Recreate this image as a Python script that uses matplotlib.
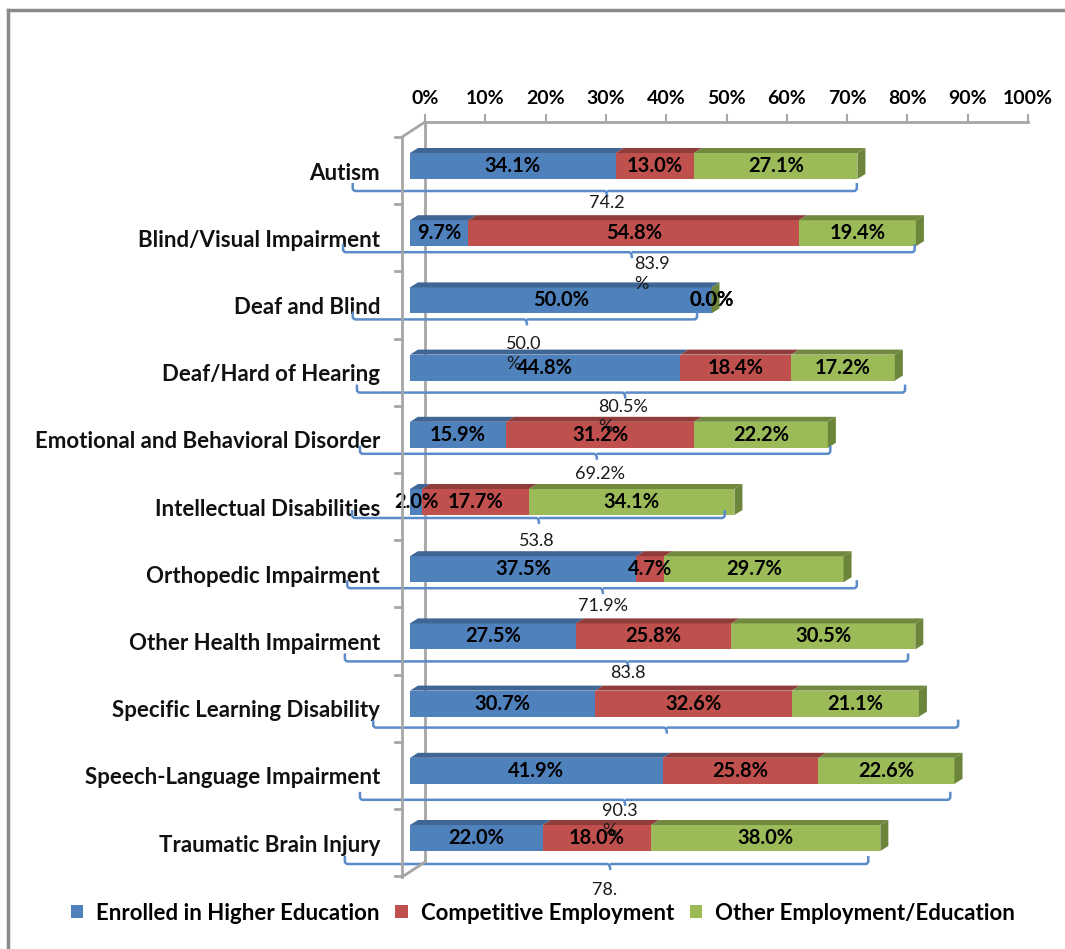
import matplotlib
matplotlib.use("Agg")
import matplotlib.pyplot as plt
from matplotlib.patches import Polygon, Patch, PathPatch
from matplotlib.lines import Line2D
from matplotlib.path import Path

# ---------------- data ----------------
categories = ["Autism", "Blind/Visual Impairment", "Deaf and Blind", "Deaf/Hard of Hearing",
              "Emotional and Behavioral Disorder", "Intellectual Disabilities",
              "Orthopedic Impairment", "Other Health Impairment",
              "Specific Learning Disability", "Speech-Language Impairment",
              "Traumatic Brain Injury"]
enrolled = [34.1, 9.7, 50.0, 44.8, 15.9, 2.0, 37.5, 27.5, 30.7, 41.9, 22.0]
competitive = [13.0, 54.8, 0.0, 18.4, 31.2, 17.7, 4.7, 25.8, 32.6, 25.8, 18.0]
other = [27.1, 19.4, 0.0, 17.2, 22.2, 34.1, 29.7, 30.5, 21.1, 22.6, 38.0]
series_names = ["Enrolled in Higher Education", "Competitive Employment",
                "Other Employment/Education"]
total_labels = ["74.2", "83.9\n%", "50.0\n%", "80.5%\n%", "69.2%", "53.8", "71.9%",
                "83.8", "", "90.3\n%", "78."]
tick_values = [0, 10, 20, 30, 40, 50, 60, 70, 80, 90, 100]
tick_labels = [f"{v}%" for v in tick_values]

# ---------------- layout / style ----------------
W, H = 1065, 949
FONT = ["Lato", "DejaVu Sans"]
front_colors = ["#4F81BD", "#C0504D", "#9BBB59"]
top_colors = ["#3E6594", "#8F3C3A", "#71893F"]
side_color = "#6B853A"
brace_color = "#5B8BC9"
grid_gray = "#A6A6A6"

PX_X = 6.03    # pixels per percent
PX_Y = 67.2    # pixels per category
BAR_H = 26 / PX_Y
DX = 8 / PX_X
DY = 5 / PX_Y

# bracket annotation layout (x in %, y offsets in px below the bar centre)
brace_left = [-9.5, -11.1, -9.5, -8.8, -8.3, -9.6, -10.4, -10.8, -6.1, -8.3, -10.8]
brace_right = [74.1, 83.7, 47.6, 82.1, 69.7, 52.2, 74.1, 82.6, 90.9, 89.6, 76.0]
brace_mid = [32.7, 36.8, 19.4, 35.7, 31.0, 21.4, 32.0, 36.2, 42.6, 35.7, 33.2]
brace_off = [25, 19, 19, 25, 19, 16, 19, 25, 24, 29, 26]
label_x = [32.7, 40.1, 18.9, 35.3, 31.5, 21.1, 32.0, 36.2, 42.6, 34.8, 32.2]
label_off = [37, 29, 42, 37, 39, 39, 37, 37, 46, 38, 52]

plt.rcParams["font.family"] = FONT

fig = plt.figure(figsize=(W / 100, H / 100), dpi=100)


def fx(px):
    return px / W


def fy(py):
    return 1 - py / H


# back plane axes (top percentage axis + back wall line)
ax2 = fig.add_axes([fx(425), fy(862), 603 / W, 740 / H])
ax2.set_xlim(0, 100)
ax2.set_ylim(0, 1)
ax2.patch.set_visible(False)
for s in ["right", "bottom"]:
    ax2.spines[s].set_visible(False)
for s in ["top", "left"]:
    ax2.spines[s].set_color(grid_gray)
    ax2.spines[s].set_linewidth(2)
ax2.xaxis.tick_top()
ax2.set_xticks(tick_values)
ax2.set_xticklabels(tick_labels, fontsize=14, fontweight="bold")
ax2.tick_params(axis="x", direction="out", length=6, width=1.5, color=grid_gray, pad=5)
ax2.set_yticks([])

# front axes carrying the bars
n = len(categories)
ax = fig.add_axes([fx(410), fy(880), 603 / W, 760 / H])
ax.set_xlim(0, 100)
ax.set_ylim((880 - 166) / PX_Y, (120 - 166) / PX_Y)
ax.axis("off")
ax.patch.set_visible(False)

ys = list(range(n))
series = [enrolled, competitive, other]
lefts = [0.0] * n
for si, vals in enumerate(series):
    ax.barh(ys, vals, left=lefts, height=BAR_H, color=front_colors[si], zorder=3,
            linewidth=0)
    for i in range(n):
        l, w = lefts[i], vals[i]
        top = i - BAR_H / 2
        if w > 0:
            ax.add_patch(Polygon([(l, top), (l + w, top), (l + w + DX, top - DY),
                                  (l + DX, top - DY)], closed=True,
                                 facecolor=top_colors[si], edgecolor="none", zorder=3))
        ax.text(l + w / 2, i, f"{w:.1f}%", ha="center", va="center", fontsize=14.5,
                fontweight="bold", color="black", zorder=6)
    lefts = [lefts[i] + vals[i] for i in range(n)]

# right side face of each bar
for i in range(n):
    r = lefts[i]
    top = i - BAR_H / 2
    bot = i + BAR_H / 2
    ax.add_patch(Polygon([(r, top), (r + DX, top - DY), (r + DX, bot - DY), (r, bot)],
                         closed=True, facecolor=side_color, edgecolor="none", zorder=3))

# category labels
for i, c in enumerate(categories):
    ax.annotate(c, xy=(0, i), xycoords=("axes fraction", "data"), xytext=(-30, -7),
                textcoords="offset pixels", ha="right", va="center", fontsize=16,
                fontweight="bold", color="#111111", annotation_clip=False)

# bracket annotations with totals
rx = 3 / PX_X
ry = 3 / PX_Y
up = 8 / PX_Y
down = 6 / PX_Y
for i in range(n):
    L, R, M = brace_left[i], brace_right[i], brace_mid[i]
    yb = i + brace_off[i] / PX_Y
    verts = [(L, yb - up), (L, yb - ry), (L, yb), (L + rx, yb), (M - rx, yb),
             (M, yb), (M, yb + down), (M, yb), (M + rx, yb), (R - rx, yb),
             (R, yb), (R, yb - ry), (R, yb - up)]
    codes = [Path.MOVETO, Path.LINETO, Path.CURVE3, Path.CURVE3, Path.LINETO,
             Path.CURVE3, Path.CURVE3, Path.MOVETO, Path.CURVE3, Path.LINETO,
             Path.CURVE3, Path.CURVE3, Path.LINETO]
    ax.add_patch(PathPatch(Path(verts, codes), fill=False, edgecolor=brace_color,
                           linewidth=1.8, zorder=4, clip_on=False))
    if total_labels[i]:
        multi = "\n" in total_labels[i]
        off = label_off[i] - (6 if multi else 0)
        ax.text(label_x[i], i + off / PX_Y, total_labels[i], ha="center",
                va="top" if multi else "center",
                multialignment="left", fontsize=13, color="#1A1A1A", zorder=5,
                linespacing=1.3, clip_on=False)

# 3D side wall
wall_x = 402
fig.add_artist(Line2D([fx(wall_x), fx(wall_x)], [fy(137), fy(877)], color=grid_gray, lw=2))
fig.add_artist(Line2D([fx(wall_x), fx(425)], [fy(137), fy(122)], color=grid_gray, lw=2))
fig.add_artist(Line2D([fx(wall_x), fx(425)], [fy(877), fy(862)], color=grid_gray, lw=2))
for k in range(12):
    yy = 137 + k * PX_Y
    fig.add_artist(Line2D([fx(395), fx(wall_x)], [fy(yy), fy(yy)], color=grid_gray, lw=2))

# outer frame (top and left edges visible)
fig.add_artist(Line2D([fx(8), fx(8)], [fy(10), 0], color="#8A8A8A", lw=2.5))
fig.add_artist(Line2D([fx(8), 1], [fy(10), fy(10)], color="#8A8A8A", lw=2.5))

# legend
handles = [Patch(facecolor=c, edgecolor="none") for c in front_colors]
fig.legend(handles, series_names, loc="center", bbox_to_anchor=(fx(543), fy(913)),
           ncol=3, frameon=False, prop={"size": 16, "weight": "bold"},
           handlelength=0.55, handleheight=0.55, handletextpad=0.6, columnspacing=0.7)

fig.savefig("out.png", dpi=100, facecolor="white")
